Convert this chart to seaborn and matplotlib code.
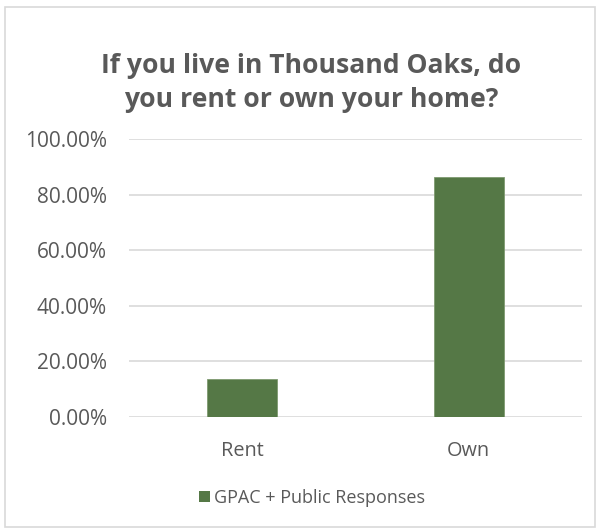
import matplotlib
matplotlib.use("Agg")
import matplotlib.pyplot as plt
import seaborn as sns
import pandas as pd
from matplotlib.patches import Rectangle, Patch
from matplotlib.ticker import FuncFormatter

categories = ["Rent", "Own"]
values = [13.8, 86.2]
series_name = "GPAC + Public Responses"
title = "If you live in Thousand Oaks, do\nyou rent or own your home?"

BAR = "#557846"
TXT = "#595959"

sns.set_theme(style="white")
plt.rcParams['font.family'] = ['Open Sans', 'DejaVu Sans']

df = pd.DataFrame({"cat": categories, "val": values})

fig = plt.figure(figsize=(6, 5.32), dpi=100)
ax = fig.add_axes([129/600, 1-417/532, (582-129)/600, (417-139)/532])

sns.barplot(data=df, x="cat", y="val", color=BAR, width=0.31,
            saturation=1, ax=ax, zorder=3)
for p in ax.patches:
    p.set_edgecolor("#7f9a70")
    p.set_linewidth(0.6)

ax.set_ylim(0, 100)
ax.set_xlim(-0.5, 1.5)
ax.set_yticks([0, 20, 40, 60, 80, 100])
ax.yaxis.set_major_formatter(FuncFormatter(lambda v, _: f"{v:.2f}%"))
ax.grid(axis="y", color="#d9d9d9", linewidth=1.2, zorder=0)
for s in ax.spines.values():
    s.set_visible(False)
ax.set_xlabel("")
ax.set_ylabel("")
ax.tick_params(axis="y", length=0, labelsize=15, colors=TXT, pad=16)
ax.tick_params(axis="x", length=0, labelsize=14.3, colors=TXT, pad=17)
for lbl in ax.get_xticklabels() + ax.get_yticklabels():
    lbl.set_color(TXT)

fig.text(311/600, 1-83/532, title, ha="center", va="center", fontsize=19.1,
         fontweight="bold", color=TXT, linespacing=1.42)

handles = [Patch(facecolor=BAR, edgecolor="none", label=series_name)]
fig.legend(handles=handles, loc="center", bbox_to_anchor=(312/600, 1-498/532),
           frameon=False, fontsize=13, handlelength=0.6, handleheight=0.6,
           handletextpad=0.25, labelcolor=TXT)

fig.patches.append(Rectangle((5/600, 5/532), 590/600, 1-12/532,
                             transform=fig.transFigure, fill=False,
                             edgecolor="#d9d9d9", linewidth=1.2))

fig.savefig("out.png", dpi=100)
